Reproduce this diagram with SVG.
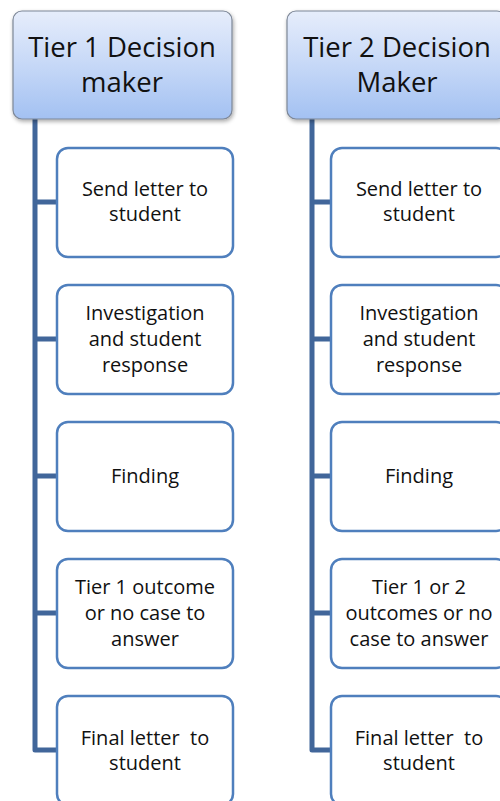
<svg xmlns="http://www.w3.org/2000/svg" width="500" height="801" viewBox="0 0 500 801">
<defs>
<linearGradient id="hg" x1="0" y1="0" x2="0" y2="1">
<stop offset="0" stop-color="#e6edfb"/>
<stop offset="0.5" stop-color="#c6d8f7"/>
<stop offset="1" stop-color="#a3c1f2"/>
</linearGradient>
<filter id="sh" x="-10%" y="-10%" width="130%" height="130%">
<feGaussianBlur in="SourceAlpha" stdDeviation="2"/>
<feOffset dx="1" dy="2" result="b"/>
<feComponentTransfer><feFuncA type="linear" slope="0.35"/></feComponentTransfer>
<feMerge><feMergeNode/><feMergeNode in="SourceGraphic"/></feMerge>
</filter>
<style>
.hdr{fill:url(#hg);stroke:#7d8797;stroke-width:1.2;filter:url(#sh)}
.box{fill:#ffffff;stroke:#4f7fbd;stroke-width:2.5}
.ln{stroke:#41669a;stroke-width:5;fill:none;stroke-linejoin:round}
.ht{font-family:"Open Sans","Liberation Sans",sans-serif;font-size:27.5px;fill:#111;text-anchor:middle}
.bt{font-family:"Open Sans","Liberation Sans",sans-serif;font-size:20px;fill:#111;text-anchor:middle;white-space:pre}
</style>
</defs>
<g id="connectors">
<path class="ln" d="M35 118 V750 H57"/>
<path class="ln" d="M35 202 H57 M35 339 H57 M35 476 H57 M35 613 H57"/>
<path class="ln" d="M312 118 V750 H331"/>
<path class="ln" d="M312 202 H331 M312 339 H331 M312 476 H331 M312 613 H331"/>
</g>
<g id="tier1">
<rect class="hdr" x="13" y="11" width="219" height="108" rx="9"/>
<text class="ht" x="122" y="57">Tier 1 Decision</text>
<text class="ht" x="122" y="92">maker</text>
</g>
<g id="t1-send"><rect class="box" x="57" y="148" width="176" height="109" rx="11"/>
<text class="bt" x="145" y="196">Send letter to</text><text class="bt" x="145" y="221">student</text></g>
<g id="t1-invest"><rect class="box" x="57" y="285" width="176" height="109" rx="11"/>
<text class="bt" x="145" y="320">Investigation</text><text class="bt" x="145" y="346">and student</text><text class="bt" x="145" y="372">response</text></g>
<g id="t1-finding"><rect class="box" x="57" y="422" width="176" height="109" rx="11"/>
<text class="bt" x="145" y="483">Finding</text></g>
<g id="t1-outcome"><rect class="box" x="57" y="559" width="176" height="109" rx="11"/>
<text class="bt" x="145" y="594">Tier 1 outcome</text><text class="bt" x="145" y="620">or no case to</text><text class="bt" x="145" y="646">answer</text></g>
<g id="t1-final"><rect class="box" x="57" y="696" width="176" height="109" rx="11"/>
<text class="bt" x="145" y="745" xml:space="preserve">Final letter  to</text><text class="bt" x="145" y="770">student</text></g>
<g id="tier2">
<rect class="hdr" x="287" y="11" width="219" height="108" rx="9"/>
<text class="ht" x="397" y="57">Tier 2 Decision</text>
<text class="ht" x="397" y="92">Maker</text>
</g>
<g id="t2-send"><rect class="box" x="331" y="148" width="176" height="109" rx="11"/>
<text class="bt" x="419" y="196">Send letter to</text><text class="bt" x="419" y="221">student</text></g>
<g id="t2-invest"><rect class="box" x="331" y="285" width="176" height="109" rx="11"/>
<text class="bt" x="419" y="320">Investigation</text><text class="bt" x="419" y="346">and student</text><text class="bt" x="419" y="372">response</text></g>
<g id="t2-finding"><rect class="box" x="331" y="422" width="176" height="109" rx="11"/>
<text class="bt" x="419" y="483">Finding</text></g>
<g id="t2-outcome"><rect class="box" x="331" y="559" width="176" height="109" rx="11"/>
<text class="bt" x="419" y="594">Tier 1 or 2</text><text class="bt" x="419" y="620">outcomes or no</text><text class="bt" x="419" y="646">case to answer</text></g>
<g id="t2-final"><rect class="box" x="331" y="696" width="176" height="109" rx="11"/>
<text class="bt" x="419" y="745" xml:space="preserve">Final letter  to</text><text class="bt" x="419" y="770">student</text></g>
</svg>
